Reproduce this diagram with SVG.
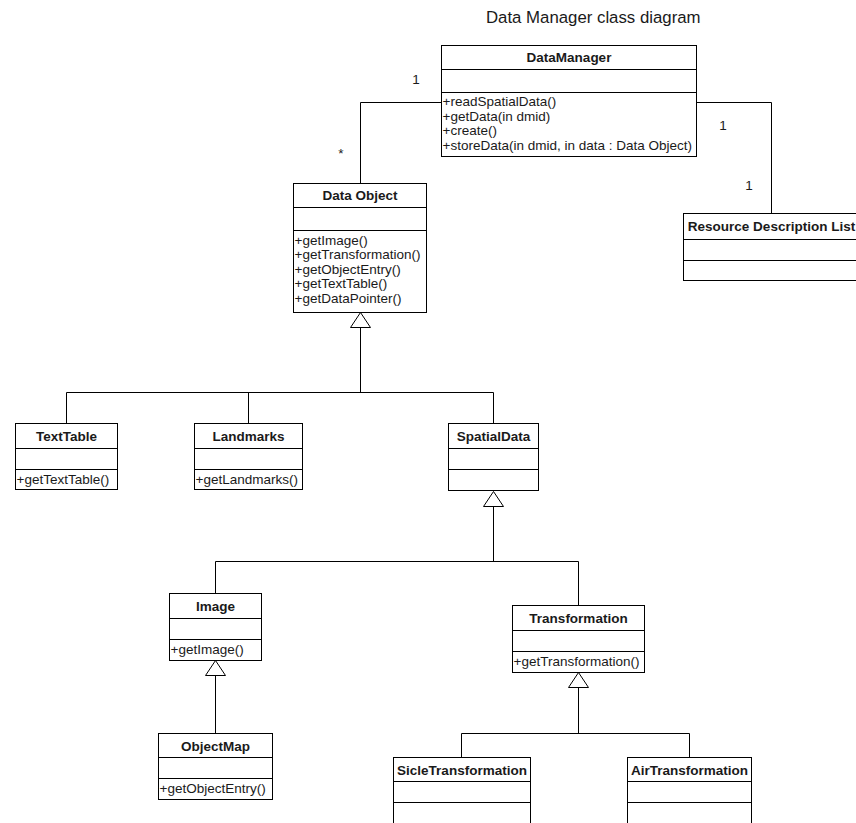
<svg xmlns="http://www.w3.org/2000/svg" width="856" height="823" viewBox="0 0 856 823">
<style>
  .box { fill: #ffffff; stroke: #000000; stroke-width: 1; }
  .sep { stroke: #000000; stroke-width: 1; }
  .name { font-family: "Liberation Sans", Arial, sans-serif; font-size: 13.5px; font-weight: bold; fill: #1a1a1a; text-anchor: middle; }
  .op { font-family: "Liberation Sans", Arial, sans-serif; font-size: 13.5px; fill: #1a1a1a; }
  .lbl { font-family: "Liberation Sans", Arial, sans-serif; font-size: 13.5px; fill: #1a1a1a; text-anchor: middle; }
  .title { font-family: "Liberation Sans", Arial, sans-serif; font-size: 16.8px; fill: #1a1a1a; }
  .conn { fill: none; stroke: #000000; stroke-width: 1; }
  .tri { fill: #ffffff; stroke: #000000; stroke-width: 1; }
</style>
<rect width="856" height="823" fill="#ffffff"/>
<text class="title" x="486" y="23">Data Manager class diagram</text>

<g id="connectors">
  <polyline class="conn" points="441.5,102.5 360.5,102.5 360.5,183.5"/>
  <polyline class="conn" points="696.5,102.5 771.5,102.5 771.5,213.5"/>
  <polyline class="conn" points="360.5,327.5 360.5,392.5"/>
  <polyline class="conn" points="66.5,423.5 66.5,392.5 493.5,392.5 493.5,423.5"/>
  <polyline class="conn" points="248.5,392.5 248.5,423.5"/>
  <polygon class="tri" points="360.5,312.5 350.5,327.5 370.5,327.5"/>
  <polyline class="conn" points="493.5,506.5 493.5,561.5"/>
  <polyline class="conn" points="215.5,593.5 215.5,561.5 578.5,561.5 578.5,605.5"/>
  <polygon class="tri" points="493.5,491.5 483.5,506.5 503.5,506.5"/>
  <polyline class="conn" points="215.5,675.5 215.5,733.5"/>
  <polygon class="tri" points="215.5,660.5 205.5,675.5 225.5,675.5"/>
  <polyline class="conn" points="578.5,687.5 578.5,733.5"/>
  <polyline class="conn" points="461.5,757.5 461.5,733.5 689.5,733.5 689.5,757.5"/>
  <polygon class="tri" points="578.5,672.5 568.5,687.5 588.5,687.5"/>
  <text class="lbl" x="416" y="84">1</text>
  <text class="lbl" x="341" y="158">*</text>
  <text class="lbl" x="723" y="130">1</text>
  <text class="lbl" x="749" y="190">1</text>
</g>

<g id="DataManager">
  <rect class="box" x="441.5" y="45.5" width="255" height="111"/>
  <line class="sep" x1="441.5" y1="69.5" x2="696.5" y2="69.5"/>
  <line class="sep" x1="441.5" y1="92.5" x2="696.5" y2="92.5"/>
  <text class="name" x="569" y="62">DataManager</text>
  <text class="op" x="442.5" y="105.5">+readSpatialData()</text>
  <text class="op" x="442.5" y="120.5">+getData(in dmid)</text>
  <text class="op" x="442.5" y="135">+create()</text>
  <text class="op" x="442.5" y="150">+storeData(in dmid, in data : Data Object)</text>
</g>

<g id="DataObject">
  <rect class="box" x="293.5" y="183.5" width="133" height="129"/>
  <line class="sep" x1="293.5" y1="207.5" x2="426.5" y2="207.5"/>
  <line class="sep" x1="293.5" y1="230.5" x2="426.5" y2="230.5"/>
  <text class="name" x="360" y="200">Data Object</text>
  <text class="op" x="294.5" y="244.5">+getImage()</text>
  <text class="op" x="294.5" y="259">+getTransformation()</text>
  <text class="op" x="294.5" y="273.5">+getObjectEntry()</text>
  <text class="op" x="294.5" y="288">+getTextTable()</text>
  <text class="op" x="294.5" y="302.5">+getDataPointer()</text>
</g>

<g id="ResourceDescriptionList">
  <rect class="box" x="683.5" y="213.5" width="176" height="67"/>
  <line class="sep" x1="683.5" y1="239.5" x2="859.5" y2="239.5"/>
  <line class="sep" x1="683.5" y1="260.5" x2="859.5" y2="260.5"/>
  <text class="name" x="771.5" y="231">Resource Description List</text>
</g>

<g id="TextTable">
  <rect class="box" x="15.5" y="423.5" width="102" height="66"/>
  <line class="sep" x1="15.5" y1="448.5" x2="117.5" y2="448.5"/>
  <line class="sep" x1="15.5" y1="469.5" x2="117.5" y2="469.5"/>
  <text class="name" x="66.5" y="440.5">TextTable</text>
  <text class="op" x="16.5" y="484">+getTextTable()</text>
</g>

<g id="Landmarks">
  <rect class="box" x="194.5" y="423.5" width="108" height="66"/>
  <line class="sep" x1="194.5" y1="448.5" x2="302.5" y2="448.5"/>
  <line class="sep" x1="194.5" y1="469.5" x2="302.5" y2="469.5"/>
  <text class="name" x="248.5" y="440.5">Landmarks</text>
  <text class="op" x="195.5" y="484">+getLandmarks()</text>
</g>

<g id="SpatialData">
  <rect class="box" x="448.5" y="423.5" width="90" height="67"/>
  <line class="sep" x1="448.5" y1="448.5" x2="538.5" y2="448.5"/>
  <line class="sep" x1="448.5" y1="469.5" x2="538.5" y2="469.5"/>
  <text class="name" x="493.5" y="440.5">SpatialData</text>
</g>

<g id="Image">
  <rect class="box" x="169.5" y="593.5" width="92" height="67"/>
  <line class="sep" x1="169.5" y1="618.5" x2="261.5" y2="618.5"/>
  <line class="sep" x1="169.5" y1="639.5" x2="261.5" y2="639.5"/>
  <text class="name" x="215.5" y="610.5">Image</text>
  <text class="op" x="170.5" y="654">+getImage()</text>
</g>

<g id="Transformation">
  <rect class="box" x="512.5" y="605.5" width="132" height="67"/>
  <line class="sep" x1="512.5" y1="630.5" x2="644.5" y2="630.5"/>
  <line class="sep" x1="512.5" y1="651.5" x2="644.5" y2="651.5"/>
  <text class="name" x="578.5" y="622.5">Transformation</text>
  <text class="op" x="513.5" y="666">+getTransformation()</text>
</g>

<g id="ObjectMap">
  <rect class="box" x="158.5" y="733.5" width="114" height="66"/>
  <line class="sep" x1="158.5" y1="757.5" x2="272.5" y2="757.5"/>
  <line class="sep" x1="158.5" y1="778.5" x2="272.5" y2="778.5"/>
  <text class="name" x="215.5" y="750.5">ObjectMap</text>
  <text class="op" x="159.5" y="793">+getObjectEntry()</text>
</g>

<g id="SicleTransformation">
  <rect class="box" x="393.5" y="757.5" width="137" height="80"/>
  <line class="sep" x1="393.5" y1="781.5" x2="530.5" y2="781.5"/>
  <line class="sep" x1="393.5" y1="802.5" x2="530.5" y2="802.5"/>
  <text class="name" x="462" y="774.5">SicleTransformation</text>
</g>

<g id="AirTransformation">
  <rect class="box" x="627.5" y="757.5" width="124" height="80"/>
  <line class="sep" x1="627.5" y1="781.5" x2="751.5" y2="781.5"/>
  <line class="sep" x1="627.5" y1="802.5" x2="751.5" y2="802.5"/>
  <text class="name" x="689.5" y="774.5">AirTransformation</text>
</g>
</svg>
